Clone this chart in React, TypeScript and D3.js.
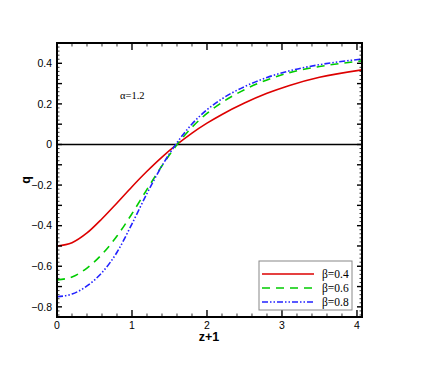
import React, { useRef, useEffect } from 'react';
import * as d3 from 'd3';

// values
const zValues = [0, 0.2, 0.4, 0.6, 0.8, 1.0, 1.2, 1.4, 1.6, 1.8, 2.0, 2.2, 2.5, 2.8, 3.1, 3.5, 4.07];
const qBeta04 = [-0.5, -0.484, -0.436, -0.366, -0.288, -0.208, -0.132, -0.062, 0.0, 0.056, 0.105, 0.148, 0.204, 0.252, 0.291, 0.331, 0.368];
const qBeta06 = [-0.667, -0.653, -0.609, -0.541, -0.451, -0.341, -0.221, -0.105, -0.001, 0.085, 0.153, 0.207, 0.27, 0.318, 0.354, 0.384, 0.412];
const qBeta08 = [-0.75, -0.737, -0.697, -0.631, -0.531, -0.391, -0.241, -0.105, 0.009, 0.101, 0.171, 0.225, 0.285, 0.33, 0.363, 0.393, 0.421];

const seriesNames = ['β=0.4', 'β=0.6', 'β=0.8'];
const seriesColors = ['#dd0000', '#00cc00', '#2222ff'];
const seriesDash = [null, '8,6', '6,2,1.5,2,1.5,2'];

const xTickLabels = [0, 1, 2, 3, 4];
const yTickLabels = [-0.8, -0.6, -0.4, -0.2, 0, 0.2, 0.4];

const App = () => {
  const ref = useRef<SVGSVGElement>(null);

  useEffect(() => {
    const svg = d3.select(ref.current);
    svg.selectAll('*').remove();

    const width = 436, height = 388;
    const left = 57, right = 362, top = 43, bottom = 317;

    svg.attr('width', width).attr('height', height);

    const x = d3.scaleLinear().domain([0, 4.067]).range([left, right]);
    const y = d3.scaleLinear().domain([-0.85, 0.5]).range([bottom, top]);

    svg.append('rect').attr('width', width).attr('height', height).attr('fill', '#fff');

    svg.append('clipPath').attr('id', 'plotclip')
      .append('rect')
      .attr('x', left).attr('y', top)
      .attr('width', right - left).attr('height', bottom - top);

    // zero line
    svg.append('line')
      .attr('x1', left).attr('x2', right)
      .attr('y1', y(0)).attr('y2', y(0))
      .attr('stroke', '#000').attr('stroke-width', 1.6);

    const line = d3.line<number>()
      .x((d, i) => x(zValues[i]))
      .y((d) => y(d))
      .curve(d3.curveMonotoneX);

    const all = [qBeta04, qBeta06, qBeta08];
    all.forEach((s, k) => {
      const p = svg.append('path')
        .attr('d', line(s))
        .attr('fill', 'none')
        .attr('clip-path', 'url(#plotclip)')
        .attr('stroke', seriesColors[k])
        .attr('stroke-width', 1.6);
      if (seriesDash[k]) p.attr('stroke-dasharray', seriesDash[k]);
    });

    // ticks
    const ticks = svg.append('g').attr('stroke', '#000');
    const xMinor = d3.range(0, 4.07, 0.2);
    xMinor.forEach((v) => {
      const major = Math.abs(v - Math.round(v)) < 1e-6;
      const len = major ? 7 : 3.5;
      const w = major ? 1.4 : 0.8;
      ticks.append('line').attr('x1', x(v)).attr('x2', x(v))
        .attr('y1', bottom).attr('y2', bottom - len).attr('stroke-width', w);
      ticks.append('line').attr('x1', x(v)).attr('x2', x(v))
        .attr('y1', top).attr('y2', top + len).attr('stroke-width', w);
    });
    const yMinor = d3.range(-0.84, 0.5, 0.02);
    yMinor.forEach((v) => {
      const t = Math.round(v * 100);
      const major = t % 10 === 0;
      const len = major ? 5 : 2.5;
      const w = major ? 1.4 : 0.8;
      ticks.append('line').attr('x1', left).attr('x2', left + len)
        .attr('y1', y(v)).attr('y2', y(v)).attr('stroke-width', w);
      ticks.append('line').attr('x1', right).attr('x2', right - len)
        .attr('y1', y(v)).attr('y2', y(v)).attr('stroke-width', w);
    });

    // frame
    svg.append('rect')
      .attr('x', left).attr('y', top)
      .attr('width', right - left).attr('height', bottom - top)
      .attr('fill', 'none').attr('stroke', '#000').attr('stroke-width', 2);

    const font = 'Liberation Sans, Arial, sans-serif';
    svg.append('g').selectAll('text').data(xTickLabels).enter().append('text')
      .attr('x', (d) => x(d)).attr('y', bottom + 12)
      .attr('text-anchor', 'middle')
      .attr('font-family', font).attr('font-size', 10.5)
      .text((d) => d);

    svg.append('g').selectAll('text').data(yTickLabels).enter().append('text')
      .attr('x', left - 5).attr('y', (d) => y(d) + 3.8)
      .attr('text-anchor', 'end')
      .attr('font-family', font).attr('font-size', 10.5)
      .text((d) => (d === 0 ? '0' : d3.format('.1f')(d)));

    svg.append('text')
      .attr('x', 209).attr('y', 341)
      .attr('text-anchor', 'middle')
      .attr('font-family', font).attr('font-size', 12.5).attr('font-weight', 'bold')
      .text('z+1');

    svg.append('text')
      .attr('transform', 'translate(30,180) rotate(-90)')
      .attr('text-anchor', 'middle')
      .attr('font-family', font).attr('font-size', 12.5).attr('font-weight', 'bold')
      .text('q');

    svg.append('text')
      .attr('x', 120).attr('y', 99)
      .attr('font-family', 'Liberation Serif, Times New Roman, serif').attr('font-size', 10.5)
      .text('α=1.2');

    // legend
    const lg = svg.append('g');
    lg.append('rect')
      .attr('x', 259).attr('y', 261).attr('width', 93).attr('height', 49)
      .attr('fill', '#fff').attr('stroke', '#888').attr('stroke-width', 1);
    seriesNames.forEach((name, k) => {
      const yy = 274 + k * 14;
      const l = lg.append('line')
        .attr('x1', 262).attr('x2', 314).attr('y1', yy).attr('y2', yy)
        .attr('stroke', seriesColors[k]).attr('stroke-width', 1.6);
      if (seriesDash[k]) l.attr('stroke-dasharray', seriesDash[k]);
      lg.append('text')
        .attr('x', 322).attr('y', yy + 4)
        .attr('font-family', 'Liberation Serif, Times New Roman, serif').attr('font-size', 11.5)
        .text(name);
    });
  }, []);

  return (
    <svg ref={ref} style={{ position: 'absolute', left: 0, top: 0, display: 'block' }}></svg>
  );
};

export default App;
